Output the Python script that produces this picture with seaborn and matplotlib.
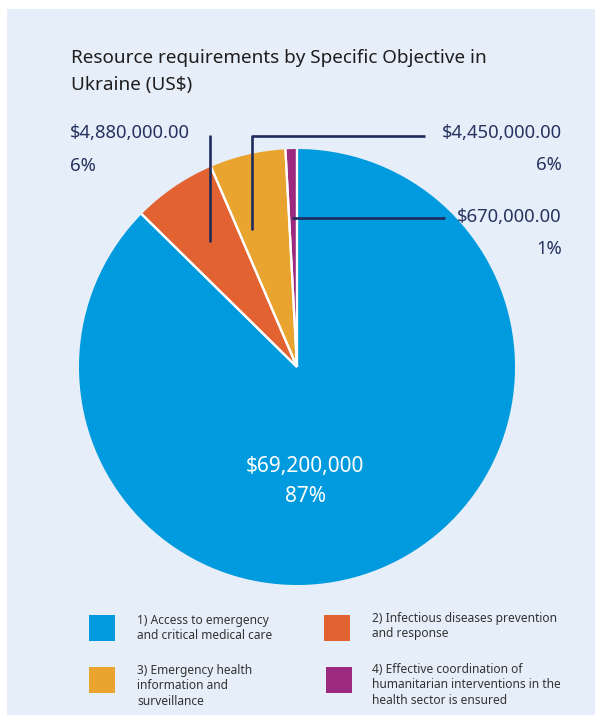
import matplotlib
matplotlib.use("Agg")
import numpy as np
import matplotlib.pyplot as plt
import seaborn as sns
from matplotlib.patches import Rectangle

sns.set_theme(style="white")
plt.rcParams['font.family'] = ['Noto Sans', 'DejaVu Sans']

# ---- data ----
objectives = [
    "1) Access to emergency\nand critical medical care",
    "2) Infectious diseases prevention\nand response",
    "3) Emergency health\ninformation and\nsurveillance",
    "4) Effective coordination of\nhumanitarian interventions in the\nhealth sector is ensured",
]
amounts = [69200000, 4880000, 4450000, 670000]
amount_labels = ["$69,200,000", "$4,880,000.00", "$4,450,000.00", "$670,000.00"]
slice_colors = ["#009ADE", "#E36232", "#E9A42F", "#9C2A7F"]
title_lines = ["Resource requirements by Specific Objective in", "Ukraine (US$)"]

total = sum(amounts)
pcts = [f"{round(100 * a / total)}%" for a in amounts]
colors = sns.color_palette(slice_colors)

W, H = 595, 715
fig = plt.figure(figsize=(W / 100, H / 100), dpi=100, facecolor="white")
ax = fig.add_axes([0, 0, 1, 1])


def Y(y):
    return H - y


NAVY = "#27335F"
ax.add_patch(Rectangle((7, -10), W + 10, H - 9 + 10, facecolor="#E6EEF9",
                       edgecolor="none", zorder=0, clip_on=False))

wedges, _ = ax.pie(amounts, colors=colors, center=(297, Y(367)), radius=218,
                   startangle=90, counterclock=False,
                   wedgeprops=dict(edgecolor="none", linewidth=0))
# white separators between slices (from the wedge geometry, no outer rim)
for w in wedges:
    cx, cy = w.center
    for th in (w.theta1, w.theta2):
        t = np.deg2rad(th)
        ax.plot([cx, cx + w.r * np.cos(t)], [cy, cy + w.r * np.sin(t)],
                color="white", lw=1.6, solid_capstyle="butt", zorder=2)
ax.set_xlim(0, W)
ax.set_ylim(0, H)
ax.set_aspect("equal")
ax.axis("off")

# title
ax.text(71, Y(63), title_lines[0], fontsize=13.6, color="#1E1E1E", va="baseline", ha="left")
ax.text(71, Y(90), title_lines[1], fontsize=13.6, color="#1E1E1E", va="baseline", ha="left")

# leader lines
lk = dict(color="#1F2B5B", lw=1.9, solid_capstyle="butt", zorder=3)
ax.plot([210, 210], [Y(135), Y(242)], **lk)
ax.plot([252, 252, 425], [Y(230), Y(136), Y(136)], **lk)
ax.plot([292, 445], [Y(218), Y(218)], **lk)

lab = dict(fontsize=13.3, color=NAVY, va="baseline")
ax.text(70, Y(138), amount_labels[1], ha="left", **lab)
ax.text(70, Y(171), pcts[1], ha="left", **lab)
ax.text(562, Y(138), amount_labels[2], ha="right", **lab)
ax.text(562, Y(170), pcts[2], ha="right", **lab)
ax.text(562, Y(222), amount_labels[3], ha="right", **lab)
ax.text(562, Y(254), pcts[3], ha="right", **lab)

ax.text(305, Y(472), amount_labels[0], ha="center", va="baseline", fontsize=15, color="white")
ax.text(305, Y(502), pcts[0], ha="center", va="baseline", fontsize=15, color="white")

# legend (swatch + wrapped label), 2 x 2 grid
sw = 26
leg_layout = [  # (swatch x, swatch top, text x, first baseline)
    (89, 615, 137, 624),
    (324, 615, 372, 622),
    (89, 667, 137, 674),
    (326, 667, 372, 673),
]
line_gap = 15.3
for i, (sx, sy, tx, by) in enumerate(leg_layout):
    ax.add_patch(Rectangle((sx, Y(sy + sw)), sw, sw, facecolor=colors[i], edgecolor="none", zorder=2))
    for k, line in enumerate(objectives[i].split("\n")):
        ax.text(tx, Y(by + k * line_gap), line, fontsize=8.6, color="#333333",
                ha="left", va="baseline")

fig.savefig("out.png", dpi=100, facecolor="white")
